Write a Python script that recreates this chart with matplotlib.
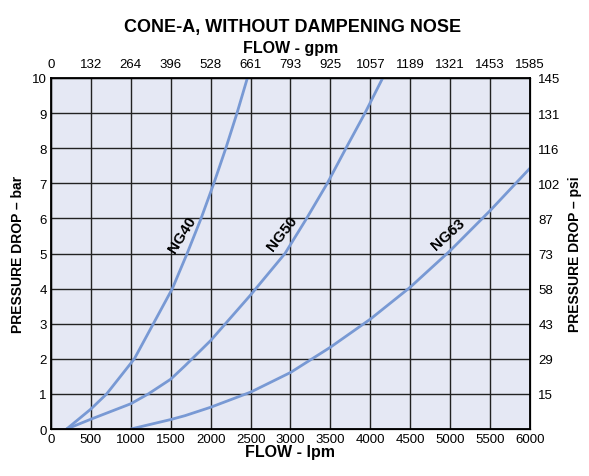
import numpy as np
import matplotlib
matplotlib.use('Agg')
import matplotlib.pyplot as plt

plt.rcParams['font.family'] = ['Liberation Sans', 'DejaVu Sans']

# data (flow in lpm, pressure drop in bar)
ng40_flow = [196, 500, 697, 1044, 1282, 1520, 1705, 1880, 2040, 2190, 2330, 2460]
ng40_bar = [0, 0.57, 1, 2, 3, 4, 5, 6, 7, 8, 9, 10]

ng50_flow = [196, 500, 1000, 1219, 1500, 1678, 2000, 2493, 2931, 3202, 3461, 3695, 3933, 4155]
ng50_bar = [0, 0.28, 0.72, 1, 1.42, 1.8, 2.52, 3.8, 5, 6, 7, 8, 9, 10]

ng63_flow = [1000, 1500, 1678, 2000, 2500, 3000, 3500, 4000, 4500, 5000, 5500, 6000]
ng63_bar = [0, 0.27, 0.38, 0.62, 1.05, 1.61, 2.33, 3.13, 4.04, 5.08, 6.22, 7.43]

lpm_ticks = list(range(0, 6001, 500))
gpm_labels = ['0', '132', '264', '396', '528', '661', '793', '925', '1057',
              '1189', '1321', '1453', '1585']
bar_ticks = list(range(0, 11))
psi_labels = ['', '15', '29', '43', '58', '73', '87', '102', '116', '131', '145']

labels = [('NG40', 1637, 5.56, 58), ('NG50', 2898, 5.58, 52), ('NG63', 4973, 5.56, 42)]

line_col = '#7899d4'

fig = plt.figure(figsize=(5.89, 4.77), dpi=100)
ax = fig.add_axes([0.0866, 0.0985, 0.8132, 0.7359])
ax.set_facecolor('#e5e8f4')

ax.plot(ng40_flow, ng40_bar, color=line_col, lw=2, solid_capstyle='round')
ax.plot(ng50_flow, ng50_bar, color=line_col, lw=2, solid_capstyle='round')
ax.plot(ng63_flow, ng63_bar, color=line_col, lw=2, solid_capstyle='round')

for txt, x, y, rot in labels:
    ax.text(x, y, txt, rotation=rot, ha='center', va='center',
            fontsize=11, fontweight='bold', rotation_mode='anchor')

ax.set_xlim(0, 6000)
ax.set_ylim(0, 10)
ax.set_xticks(lpm_ticks)
ax.set_yticks(bar_ticks)
ax.grid(True, color='#222222', lw=1.0)
ax.set_axisbelow(True)
ax.tick_params(length=0, labelsize=9.5, pad=3)
for s in ax.spines.values():
    s.set_linewidth(1.3)
    s.set_color('black')

ax.set_xlabel('FLOW - lpm', fontsize=11.5, fontweight='bold', labelpad=-1)
ax.set_ylabel('PRESSURE DROP – bar', fontsize=10, fontweight='bold', labelpad=5)

axt = ax.twiny()
axt.set_xlim(0, 6000)
axt.set_xticks(lpm_ticks)
axt.set_xticklabels(gpm_labels)
axt.tick_params(length=0, labelsize=9.5, pad=6)
axt.set_xlabel('FLOW - gpm', fontsize=11.5, fontweight='bold', labelpad=4)

axr = ax.twinx()
axr.set_ylim(0, 10)
axr.set_yticks(bar_ticks)
axr.set_yticklabels(psi_labels)
axr.tick_params(length=0, labelsize=9.5, pad=6)
axr.set_ylabel('PRESSURE DROP – psi', fontsize=10, fontweight='bold', labelpad=5)

fig.text(0.4975, 0.943, 'CONE-A, WITHOUT DAMPENING NOSE', ha='center', va='center',
         fontsize=13, fontweight='bold')

fig.savefig('out.png', dpi=100)
